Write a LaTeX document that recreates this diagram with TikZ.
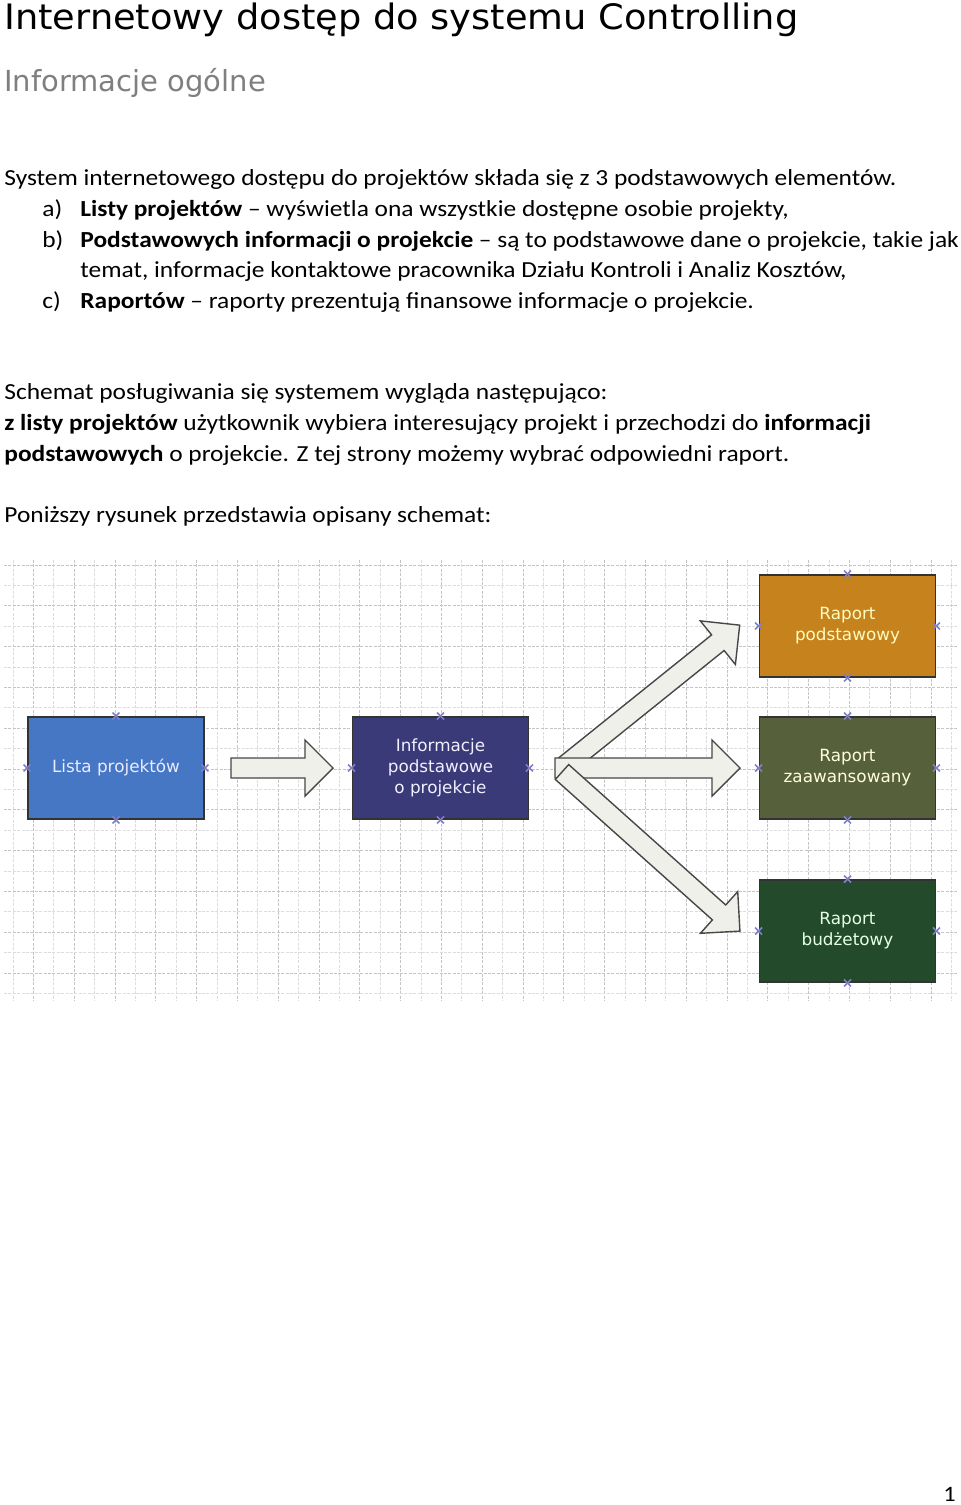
\documentclass[tikz,border=0pt]{standalone}
\usepackage{fontspec}
\setmainfont{Carlito}[FakeStretch=1.105]
\newfontfamily\diagfont{DejaVu Sans}
\newfontfamily\headfont{DejaVu Sans}[FakeStretch=1.05]
\newfontfamily\subfont{DejaVu Sans}
\usetikzlibrary{calc}
\definecolor{gridd}{HTML}{C4C4C4}
\definecolor{gridl}{HTML}{DDDDDD}
\definecolor{markc}{HTML}{7F7FC8}
\definecolor{cBlue}{HTML}{4677C4}
\definecolor{cIndigo}{HTML}{3B3A78}
\definecolor{cOrange}{HTML}{C6821C}
\definecolor{cOlive}{HTML}{56603A}
\definecolor{cGreen}{HTML}{234A2A}
\definecolor{arrowfill}{HTML}{F0F0EA}
\definecolor{subgray}{HTML}{7F7F7F}
\begin{document}
\begin{tikzpicture}[x=0.5pt,y=-0.5pt,
  txt/.style={anchor=base west,inner sep=0pt,font=\fontsize{11.5}{14}\selectfont},
  gridline/.style={line width=0.5pt,dash pattern=on 1.5pt off 0.7pt},
  box/.style={draw=black!80,line width=0.9pt,minimum width=88pt,minimum height=51pt,inner sep=0pt,
    align=center,font=\diagfont\fontsize{8.4}{10.5}\selectfont},
  barrow/.style={draw=black!72,fill=arrowfill,line width=0.7pt,line join=miter},
  cmark/.style={draw=markc,line width=0.8pt}
]
\useasboundingbox (0,0) rectangle (960,1505);
% ---------- text ----------
\node[anchor=base west,inner sep=0pt,font=\headfont\fontsize{17.5}{20}\selectfont] (title) at (4,29) {Internetowy dostęp do systemu Controlling};
\node[anchor=base west,inner sep=0pt,font=\subfont\fontsize{14.5}{18}\selectfont,text=subgray] (sub) at (4,91) {Informacje ogólne};
\node[txt] (l1) at (4,185) {System internetowego dostępu do projektów składa się z 3 podstawowych elementów.};
\node[txt] (la) at (42,216) {a)};
\node[txt] (lat) at (80,216) {\textbf{Listy projektów} – wyświetla ona wszystkie dostępne osobie projekty,};
\node[txt] (lb) at (42,247) {b)};
\node[txt] (lbt) at (80,247) {\textbf{Podstawowych informacji o projekcie} – są to podstawowe dane o projekcie, takie jak};
\node[txt] (lbt2) at (80,277) {temat, informacje kontaktowe pracownika Działu Kontroli i Analiz Kosztów,};
\node[txt] (lc) at (42,308) {c)};
\node[txt] (lct) at (80,308) {\textbf{Raportów} – raporty prezentują finansowe informacje o projekcie.};
\node[txt] (s1) at (4,399) {Schemat posługiwania się systemem wygląda następująco:};
\node[txt] (s2) at (4,430) {\textbf{z listy projektów} użytkownik wybiera interesujący projekt i przechodzi do \textbf{informacji}};
\node[txt] (s3) at (4,461) {\textbf{podstawowych} o projekcie. Z tej strony możemy wybrać odpowiedni raport.};
\node[txt] (s4) at (4,522) {Poniższy rysunek przedstawia opisany schemat:};
\node[anchor=base east,inner sep=0pt,font=\fontsize{11}{13}\selectfont] (pg) at (956,1501) {1};
% ---------- grid ----------
\foreach \i in {0,...,46}{
  \pgfmathtruncatemacro\odd{mod(\i,2)}
  \ifnum\odd=1 \def\gc{gridd}\else\def\gc{gridl}\fi
  \draw[gridline,draw=\gc] ({13+\i*20.4},560) -- ({13+\i*20.4},1001);}
\foreach \j in {0,...,21}{
  \pgfmathtruncatemacro\odd{mod(\j,2)}
  \ifnum\odd=0 \def\gc{gridd}\else\def\gc{gridl}\fi
  \draw[gridline,draw=\gc] (4,{565+\j*20.4}) -- (957,{565+\j*20.4});}
% ---------- boxes ----------
\node[box,fill=cBlue,text=blue!8] (lista) at (116,768) {Lista projektów};
\node[box,fill=cIndigo,text=blue!6] (info) at (440.5,768) {Informacje\\podstawowe\\o projekcie};
\node[box,fill=cOrange,text=yellow!25] (rp) at (847.5,626) {Raport\\podstawowy};
\node[box,fill=cOlive,text=yellow!12] (rz) at (847.5,768) {Raport\\zaawansowany};
\node[box,fill=cGreen,text=green!10] (rb) at (847.5,931) {Raport\\budżetowy};
% connection markers
\foreach \n in {lista,info,rp,rz,rb}{
  \foreach \a in {north,south,east,west}{
    \draw[cmark] ($(\n.\a)+(-3.5,-3.5)$) -- ($(\n.\a)+(3.5,3.5)$);
    \draw[cmark] ($(\n.\a)+(-3.5,3.5)$) -- ($(\n.\a)+(3.5,-3.5)$);
  }
}
% ---------- block arrows ----------
\coordinate (t1) at (231,768);
\coordinate (tu) at (562,768);
\coordinate (tm) at (555,768);
\coordinate (td) at (562,772);
\newcommand\blockarrow[3]{%
  \begin{scope}[shift={(#1)},rotate=#2]
    \draw[barrow] (0,-10) -- ({#3-28},-10) -- ({#3-28},-28) -- (#3,0) -- ({#3-28},28) -- ({#3-28},10) -- (0,10) -- cycle;
  \end{scope}}
\blockarrow{t1}{0}{102}
\blockarrow{tu}{38.8}{228}
\blockarrow{tm}{0}{185}
\blockarrow{td}{-41.8}{238.7}
\end{tikzpicture}
\end{document}
